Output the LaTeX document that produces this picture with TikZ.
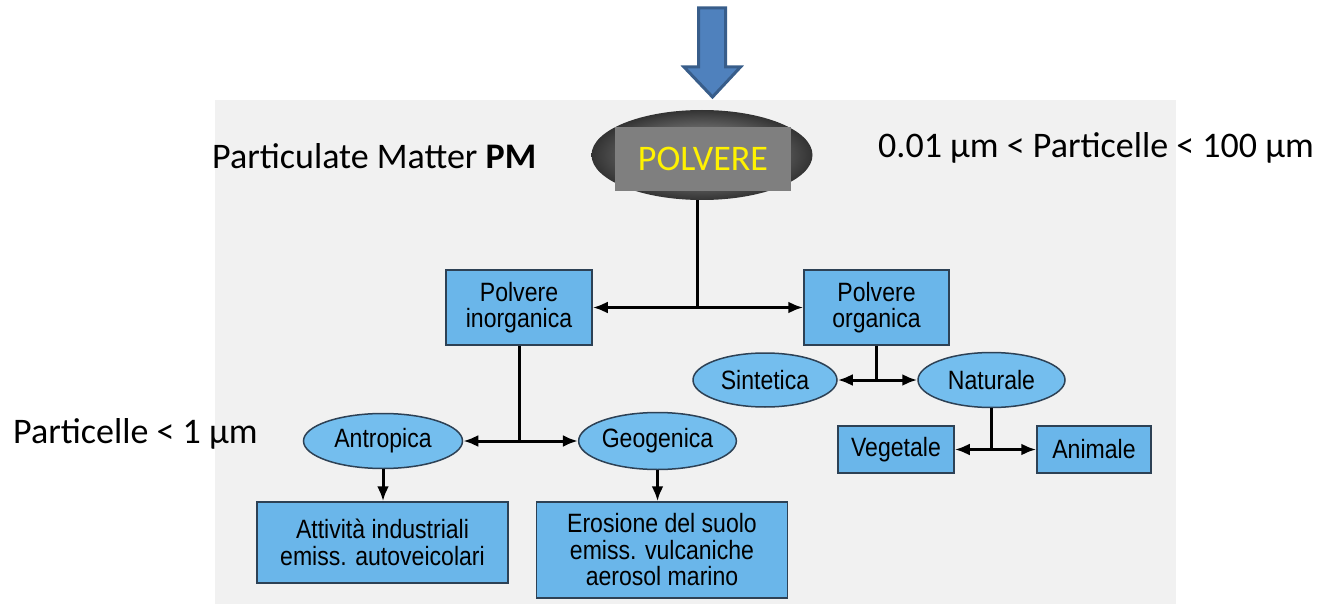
\documentclass[tikz,border=0pt]{standalone}
\usepackage{fontspec}
\setmainfont{Carlito}
\newfontfamily\chartfont[FakeStretch=0.87]{Liberation Sans}
\usepackage{xcolor}
\usepackage{tikz}
\usetikzlibrary{shapes.geometric, arrows.meta, calc}

\definecolor{boxfill}{RGB}{106,182,234}
\definecolor{ovalfill}{RGB}{116,190,238}
\definecolor{boxline}{RGB}{45,65,85}
\definecolor{arrowfill}{RGB}{79,129,189}
\definecolor{arrowline}{RGB}{56,93,138}
\definecolor{pagebg}{RGB}{241,241,241}
\definecolor{polvgray}{RGB}{127,127,127}

\begin{document}
\begin{tikzpicture}[
  x=1pt, y=-1pt,
  box/.style={rectangle, draw=boxline, fill=boxfill, line width=1.5pt,
              font=\chartfont\fontsize{26.5}{26.5}\selectfont, align=center,
              inner sep=0pt},
  oval/.style={ellipse, draw=boxline, fill=ovalfill, line width=1.5pt,
               font=\chartfont\fontsize{26.5}{26.5}\selectfont, inner sep=0pt},
  link/.style={line width=3pt, black},
  biarrow/.style={link, {Latex[length=15pt,width=12pt]}-{Latex[length=15pt,width=12pt]}},
  downarrow/.style={link, -{Latex[length=15pt,width=12pt]}},
  label/.style={font=\fontsize{36}{43}\selectfont, anchor=base west, inner sep=0pt},
]
  \useasboundingbox (0,0) rectangle (1333,604);

  % Scanned page
  \fill[pagebg] (215,100) rectangle (1176,604);

  % Block arrow
  \coordinate (tip) at (712.5,97);
  \draw[line width=3pt, draw=arrowline, fill=arrowfill, line join=miter]
    (tip) -- ++(-28.5,-30) -- ++(14.5,0) -- ++(0,-59) -- ++(27,0)
    -- ++(0,59) -- ++(15,0) -- cycle;

  % Dust particle and title
  \node[ellipse, minimum width=221pt, minimum height=90pt,
        inner color=gray!60, outer color=black!80] (blob) at (702,155) {};
  \node[rectangle, fill=polvgray, minimum width=176pt, minimum height=64pt,
        font=\fontsize{36}{43}\selectfont, text=yellow, inner sep=0pt]
        (polvere) at (703,159) {POLVERE};

  % Labels
  \node[label] (pm) at (212,169) {Particulate Matter \textbf{PM}};
  \node[label] (range) at (878,158) {0.01 µm < Particelle < 100 µm};
  \node[label] (small) at (13,443) {Particelle < 1 µm};

  % Level 1
  \node[box, minimum width=146pt, minimum height=75pt] (inorg) at (519,307.5)
    {Polvere\\inorganica};
  \node[box, minimum width=145pt, minimum height=75pt] (org) at (876.5,307.5)
    {Polvere\\organica};

  % Organic branch
  \node[oval, minimum width=144pt, minimum height=54pt] (sint) at (765,380) {Sintetica};
  \node[oval, minimum width=147pt, minimum height=55pt] (nat) at (991.5,380) {Naturale};
  \node[box, minimum width=116pt, minimum height=47pt] (veg) at (896,449.5) {Vegetale};
  \node[box, minimum width=114pt, minimum height=47pt] (anim) at (1094,449.5) {Animale};

  % Inorganic branch
  \node[oval, minimum width=159pt, minimum height=55pt] (antr) at (383,441) {Antropica};
  \node[oval, minimum width=145pt, minimum height=57pt] (geo) at (657.5,441) {Geogenica};
  \node[box, minimum width=251pt, minimum height=81pt] (att) at (382.5,542.5)
    {Attività industriali\\emiss. autoveicolari};
  \node[box, minimum width=251pt, minimum height=96pt] (eros) at (662,550)
    {Erosione del suolo\\emiss. vulcaniche\\aerosol marino};

  % Connectors
  \coordinate (split) at (697,307.5);
  \draw[link] (blob.south -| split) -- (split);
  \draw[biarrow] (inorg.east) -- (org.west);

  \draw[link] (org.south) -- (org.south |- sint.east);
  \draw[biarrow] (sint.east) -- (nat.west);

  \draw[link] (nat.south) -- (nat.south |- veg.east);
  \draw[biarrow] (veg.east) -- (anim.west);

  \draw[link] (inorg.south) -- (inorg.south |- antr.east);
  \draw[biarrow] (antr.east) -- (geo.west);

  \draw[downarrow] (antr.south) -- (antr.south |- att.north);
  \draw[downarrow] (geo.south) -- (geo.south |- eros.north);
\end{tikzpicture}
\end{document}
